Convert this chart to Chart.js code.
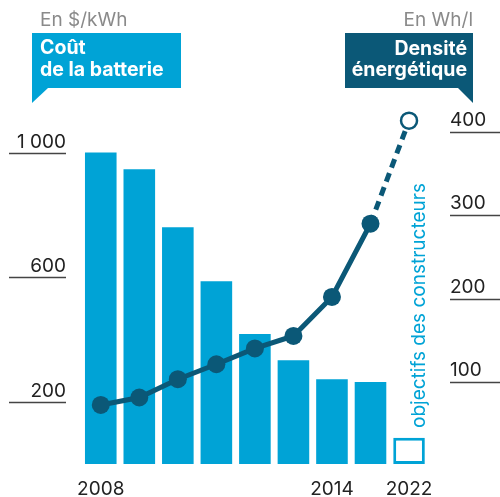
<!DOCTYPE html>
<html>
<head>
<meta charset="utf-8">
<script src="https://cdn.jsdelivr.net/npm/chart.js@4"></script>
<style>
  body { margin: 0; background: #fff; }
  canvas { display: block; }
</style>
</head>
<body>
<canvas id="myChart" width="500" height="497"></canvas>
<script>
// years on the x axis (2022 = manufacturers' target)
var years = ['2008', '2009', '2010', '2011', '2012', '2013', '2014', '2015', '2022'];
var shownYears = ['2008', '2014', '2022'];
// battery cost, $/kWh
var cost = [1000, 946, 760, 587, 417, 333, 272, 263, 84];
// energy density, Wh/l
var density = [72, 81, 103, 121, 140, 155, 202, 290, 414];
var costTicks = [200, 600, 1000];
var costTickLabels = ['200', '600', '1 000'];
var densityTicks = [100, 200, 300, 400];

var BLUE = '#00a3d6';
var TEAL = '#0b5877';
var FONT = 'Inter, "DejaVu Sans", sans-serif';

// draws the headers, callouts, ticks and labels
var decor = {
    id: 'decor',
    afterDraw: function (chart) {
        var c = chart.ctx;
        var yL = chart.scales.y;
        var yR = chart.scales.y2;
        var x = chart.scales.x;
        c.save();

        // tick lines + labels, left
        c.strokeStyle = '#444';
        c.lineWidth = 1.5;
        c.fillStyle = '#222';
        c.font = '19px ' + FONT;
        c.textAlign = 'right';
        c.textBaseline = 'alphabetic';
        costTicks.forEach(function (v, i) {
            var y = Math.round(yL.getPixelForValue(v)) + 0.5;
            c.beginPath(); c.moveTo(9, y); c.lineTo(66, y); c.stroke();
            c.fillText(costTickLabels[i], 66, y - 6);
        });
        // right
        c.textAlign = 'left';
        densityTicks.forEach(function (v) {
            var y = Math.round(yR.getPixelForValue(v)) + 0.5;
            c.beginPath(); c.moveTo(450, y); c.lineTo(500, y); c.stroke();
            c.fillText(String(v), 450, y - 7);
        });

        // x labels
        c.textAlign = 'center';
        years.forEach(function (yr, i) {
            if (shownYears.indexOf(yr) < 0) return;
            c.fillText(yr, x.getPixelForValue(i), 495);
        });

        // unit labels
        c.fillStyle = '#8a8a8a';
        c.textAlign = 'left';
        c.fillText('En $/kWh', 40, 26);
        c.textAlign = 'right';
        c.fillText('En Wh/l', 473, 26);

        // left callout
        c.fillStyle = BLUE;
        c.fillRect(32, 33, 149, 55);
        c.beginPath(); c.moveTo(32, 88); c.lineTo(32, 103); c.lineTo(48, 88); c.closePath(); c.fill();
        // right callout
        c.fillStyle = TEAL;
        c.fillRect(345, 33, 128, 55);
        c.beginPath(); c.moveTo(458, 88); c.lineTo(473, 103); c.lineTo(473, 88); c.closePath(); c.fill();

        c.fillStyle = '#fff';
        c.font = 'bold 19.5px ' + FONT;
        c.textAlign = 'left';
        c.fillText('Coût', 40, 54);
        c.fillText('de la batterie', 40, 76);
        c.textAlign = 'right';
        c.fillText('Densité', 467, 55);
        c.fillText('énergétique', 467, 76);

        // vertical note
        c.translate(425, 428);
        c.rotate(-Math.PI / 2);
        c.fillStyle = BLUE;
        c.font = '19px ' + FONT;
        c.textAlign = 'left';
        c.fillText('objectifs des constructeurs', 0, 0);
        c.restore();
    }
};

var ctx = document.getElementById('myChart').getContext('2d');
var chart = new Chart(ctx, {
    type: 'bar',
    data: {
        labels: years,
        datasets: [{
            type: 'line',
            data: density,
            yAxisID: 'y2',
            order: 0,
            borderColor: TEAL,
            borderWidth: 5,
            pointRadius: density.map(function (v, i) { return i === density.length - 1 ? 8 : 9; }),
            pointBackgroundColor: density.map(function (v, i) { return i === density.length - 1 ? '#fff' : TEAL; }),
            pointBorderColor: TEAL,
            pointBorderWidth: density.map(function (v, i) { return i === density.length - 1 ? 2.5 : 0; }),
            segment: {
                borderDash: function (s) { return s.p1DataIndex === density.length - 1 ? [9, 6] : undefined; }
            },
            clip: false
        }, {
            data: cost,
            yAxisID: 'y',
            order: 1,
            backgroundColor: cost.map(function (v, i) { return i === cost.length - 1 ? '#fff' : BLUE; }),
            borderColor: BLUE,
            borderWidth: cost.map(function (v, i) { return i === cost.length - 1 ? 3 : 0; }),
            borderSkipped: false,
            barPercentage: 0.82,
            categoryPercentage: 1
        }]
    },
    options: {
        responsive: false,
        animation: false,
        devicePixelRatio: 1,
        layout: { padding: { left: 81.5, right: 71.7, top: 110, bottom: 30 } },
        plugins: { legend: { display: false }, tooltip: { enabled: false } },
        scales: {
            x: { display: false },
            y: { display: false, min: -9.6, max: 1136.5 },
            y2: { display: false, position: 'right', min: -2.6, max: 426.8 }
        }
    },
    plugins: [decor]
});
</script>
</body>
</html>
